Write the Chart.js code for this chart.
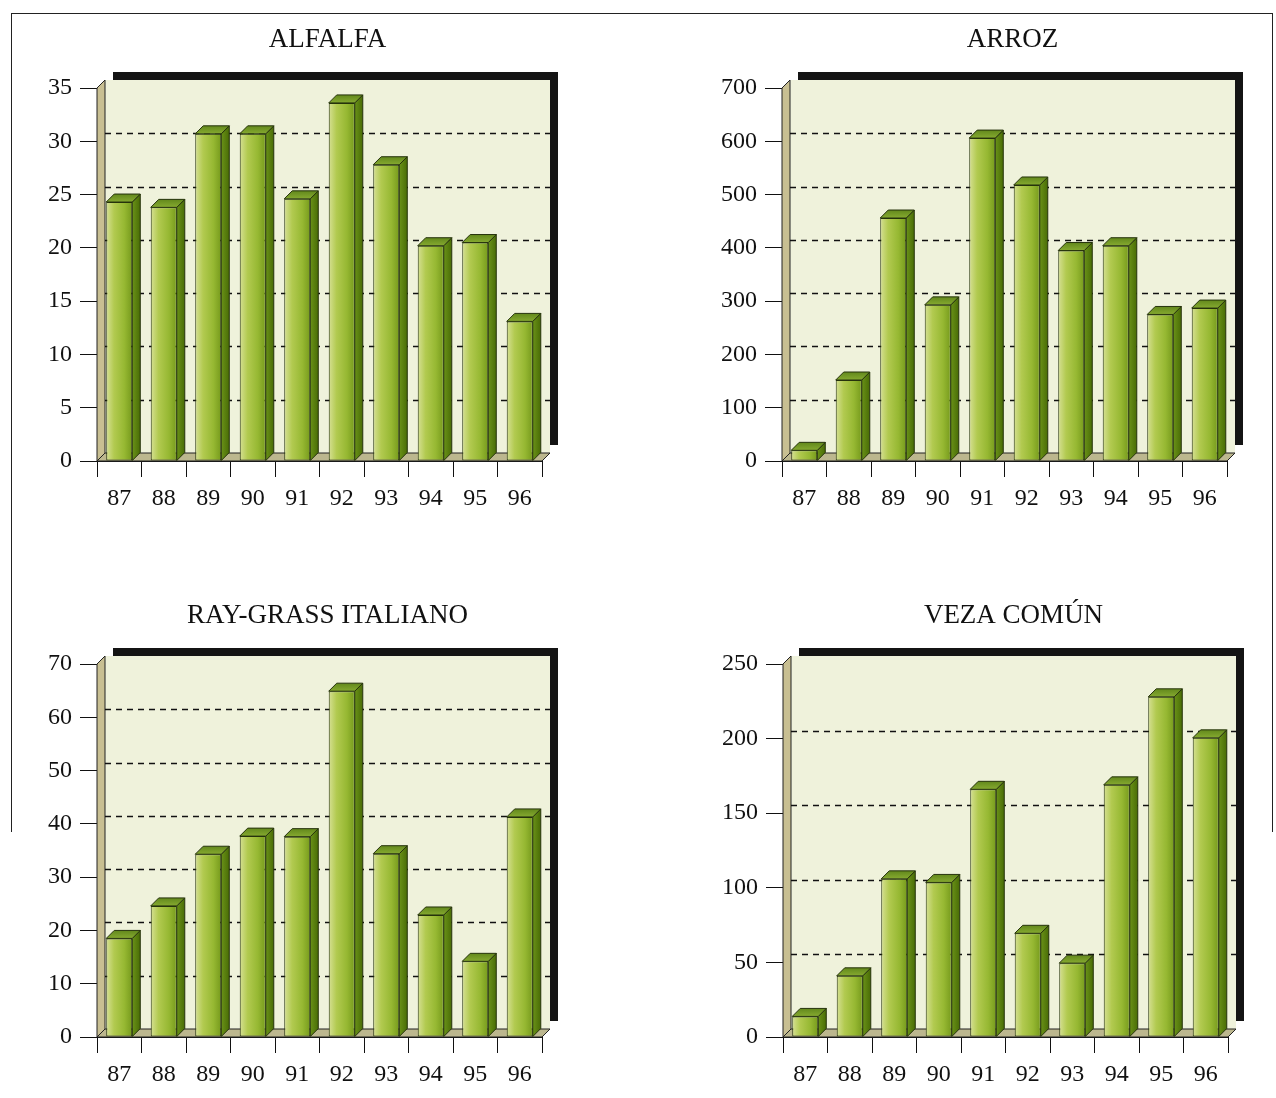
<!DOCTYPE html>
<html>
<head>
<meta charset="utf-8">
<title>Producción por cultivo 1987-1996</title>
<script src="https://cdn.jsdelivr.net/npm/chart.js@4.4.1/dist/chart.umd.min.js"></script>
<style>
    body { margin: 0; background: #fff; overflow: hidden; }
    .frame { position: absolute; left: 11px; top: 13px; width: 1260px; height: 818px; border: 1px solid #222; border-bottom: none; }
    canvas { position: absolute; }
</style>
</head>
<body>
<div class="frame"></div>
<canvas id="alfalfa" width="636" height="522" style="left:0;top:0"></canvas>
<canvas id="arroz" width="636" height="522" style="left:636px;top:0"></canvas>
<canvas id="raygrass" width="636" height="522" style="left:0;top:576px"></canvas>
<canvas id="veza" width="636" height="522" style="left:636px;top:576px"></canvas>
<script>
const years = ['87', '88', '89', '90', '91', '92', '93', '94', '95', '96'];

const alfalfa = [24.3, 23.8, 30.7, 30.7, 24.6, 33.6, 27.8, 20.2, 20.5, 13.1];
const arroz = [20, 152, 456, 293, 606, 518, 395, 404, 275, 287];
const rayGrass = [18.5, 24.6, 34.3, 37.7, 37.6, 64.9, 34.4, 22.9, 14.2, 41.3];
const veza = [13.8, 41, 106, 103.6, 166, 69.5, 49.5, 169, 228, 200.5];

// y axis: top value and step of the tick labels
const alfalfaAxis = [35, 5];
const arrozAxis = [700, 100];
const rayGrassAxis = [70, 10];
const vezaAxis = [250, 50];

const SERIF = '"Liberation Serif", "Times New Roman", serif';
const DEPTH = 8;
const BAR_PCT = 0.585;

// front face of the bar, lit from the left
function frontFill(c) {
    const chart = c.chart;
    if (c.type !== 'data' || !chart.chartArea) return '#a4c040';
    const xs = chart.scales.x;
    const cx = xs.getPixelForValue(c.dataIndex);
    const half = (chart.chartArea.width / years.length) * BAR_PCT / 2;
    const g = chart.ctx.createLinearGradient(cx - half, 0, cx + half, 0);
    g.addColorStop(0, '#d6e094');
    g.addColorStop(0.3, '#b2ca50');
    g.addColorStop(0.7, '#96b832');
    g.addColorStop(1, '#769a1c');
    return g;
}

function poly(ctx, pts) {
    ctx.beginPath();
    ctx.moveTo(pts[0][0], pts[0][1]);
    for (let i = 1; i < pts.length; i++) ctx.lineTo(pts[i][0], pts[i][1]);
    ctx.closePath();
}

const box3d = {
    id: 'box3d',
    afterLayout(chart) {
        // centre the title on the back wall
        const a = chart.chartArea, t = chart.titleBlock;
        if (!t) return;
        const half = (t.right - t.left) / 2;
        const cx = (a.left + a.right) / 2 + DEPTH;
        t.left = cx - half;
        t.right = cx + half;
    },
    beforeDatasetsDraw(chart) {
        const ctx = chart.ctx, a = chart.chartArea, ys = chart.scales.y, d = DEPTH;
        const L = a.left, R = a.right, T = a.top, B = a.bottom;
        ctx.save();
        ctx.fillStyle = '#141414';
        ctx.fillRect(L + 2 * d, T - 2 * d, R - L, B - T);
        ctx.fillStyle = '#eff2db';
        ctx.fillRect(L + d, T - d, R - L, B - T);

        ctx.strokeStyle = '#222';
        ctx.lineWidth = 1;
        poly(ctx, [[L, T], [L + d, T - d], [L + d, B - d], [L, B]]);
        ctx.fillStyle = '#c8bf92';
        ctx.fill();
        ctx.stroke();
        poly(ctx, [[L, B], [L + d, B - d], [R + d, B - d], [R, B]]);
        ctx.fillStyle = '#bcb78e';
        ctx.fill();
        ctx.stroke();

        ctx.setLineDash([6, 5]);
        ctx.strokeStyle = '#111';
        ctx.lineWidth = 1.3;
        ys.ticks.forEach(function(t) {
            if (t.value <= ys.min || t.value >= ys.max) return;
            const py = Math.round(ys.getPixelForValue(t.value) - d) + 0.5;
            ctx.beginPath();
            ctx.moveTo(L + d, py);
            ctx.lineTo(R + d, py);
            ctx.stroke();
        });
        ctx.restore();
    },
    afterDatasetsDraw(chart) {
        const ctx = chart.ctx, d = DEPTH;
        ctx.save();
        ctx.strokeStyle = '#26330c';
        ctx.lineWidth = 1;
        chart.getDatasetMeta(0).data.forEach(function(bar) {
            const p = bar.getProps(['x', 'y', 'base', 'width'], true);
            const l = p.x - p.width / 2, r = p.x + p.width / 2;
            // side face
            const gs = ctx.createLinearGradient(r, 0, r + d, 0);
            gs.addColorStop(0, '#6a9218');
            gs.addColorStop(1, '#496c06');
            poly(ctx, [[r, p.y], [r + d, p.y - d], [r + d, p.base - d], [r, p.base]]);
            ctx.fillStyle = gs;
            ctx.fill();
            ctx.stroke();
            // top face
            const gt = ctx.createLinearGradient(0, p.y, 0, p.y - d);
            gt.addColorStop(0, '#86aa30');
            gt.addColorStop(1, '#62881c');
            poly(ctx, [[l, p.y], [l + d, p.y - d], [r + d, p.y - d], [r, p.y]]);
            ctx.fillStyle = gt;
            ctx.fill();
            ctx.stroke();
        });
        ctx.restore();
    }
};

function makeChart(id, title, values, axis, padLeft, padRight) {
    const el = document.getElementById(id).getContext('2d');
    return new Chart(el, {
        type: 'bar',
        data: {
            labels: years,
            datasets: [{
                label: title,
                data: values,
                backgroundColor: frontFill,
                borderColor: '#26330c',
                borderWidth: 1,
                borderSkipped: false,
                barPercentage: BAR_PCT,
                categoryPercentage: 1
            }]
        },
        options: {
            responsive: false,
            animation: false,
            layout: { padding: { left: padLeft, right: padRight, top: 0, bottom: 1 } },
            plugins: {
                legend: { display: false },
                tooltip: { enabled: false },
                title: {
                    display: true,
                    text: title,
                    color: '#111',
                    font: { family: SERIF, size: 27, weight: 'normal' },
                    padding: { top: 24, bottom: 31.6 }
                }
            },
            scales: {
                x: {
                    grid: { offset: true, drawOnChartArea: false, drawTicks: true, tickLength: 16, color: '#111' },
                    border: { display: true, color: '#111', width: 1 },
                    ticks: { color: '#111', font: { family: SERIF, size: 24 }, padding: 7, maxRotation: 0 },
                    afterFit: function(s) { s.height = 60; }
                },
                y: {
                    min: 0,
                    max: axis[0],
                    ticks: { stepSize: axis[1], color: '#111', font: { family: SERIF, size: 24 }, padding: 8 },
                    grid: { drawOnChartArea: false, drawTicks: true, tickLength: 17, color: '#111' },
                    border: { display: true, color: '#111', width: 1 },
                    afterFit: function(s) { s.width = 90; }
                }
            }
        },
        plugins: [box3d]
    });
}

makeChart('alfalfa', 'ALFALFA', alfalfa, alfalfaAxis, 7, 94);
makeChart('arroz', 'ARROZ', arroz, arrozAxis, 56, 45);
makeChart('raygrass', 'RAY-GRASS ITALIANO', rayGrass, rayGrassAxis, 7, 94);
makeChart('veza', 'VEZA COMÚN', veza, vezaAxis, 57, 44);
</script>
</body>
</html>
